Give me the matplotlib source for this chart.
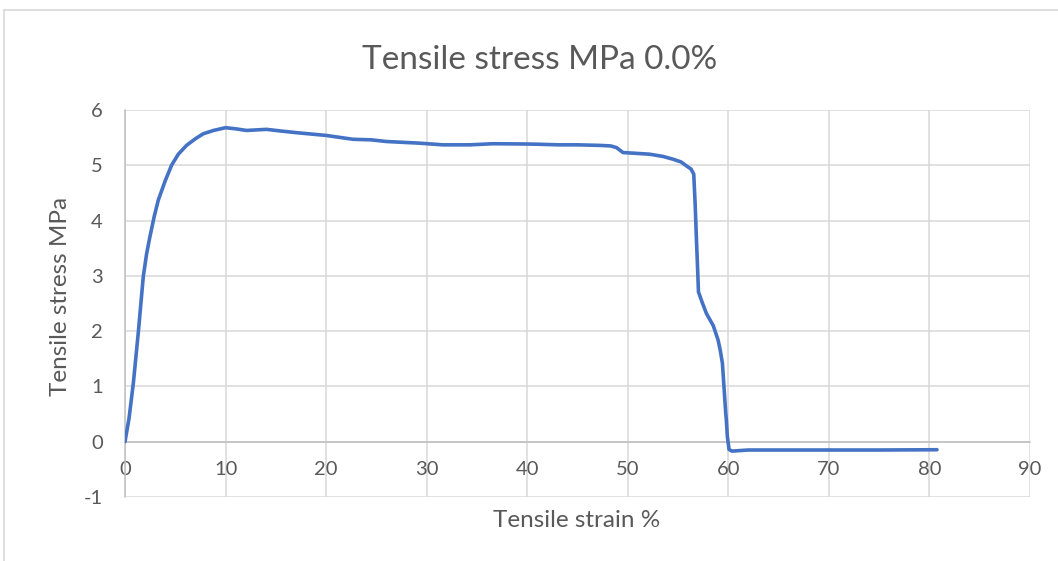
import matplotlib
matplotlib.use("Agg")
from matplotlib import pyplot as plt
from matplotlib.lines import Line2D

# Tensile test curve
strain = [0, 0.4, 0.83, 1.32, 1.82, 2.15, 2.48, 2.9, 3.31, 4.0, 4.63, 5.3,
          6.12, 7.0, 7.78, 8.8, 10.0, 11.0, 12.08, 14.07, 15.5, 17.05, 19.4,
          20.0, 22.3, 22.7, 24.5, 26.0, 29.3, 31.6, 34.3, 36.6, 39.9, 41.25,
          43.1, 45.0, 47.2, 48.3, 48.88, 49.53, 50.5, 52.19, 53.5, 54.5, 55.3,
          55.83, 56.3, 56.56, 56.7, 56.82, 56.95, 57.03, 57.4, 57.82, 58.5,
          58.98, 59.2, 59.41, 59.6, 59.74, 59.8, 59.9, 60.07, 60.36, 62, 65,
          70, 75, 80.75]
stress = [0, 0.42, 1.06, 1.97, 2.99, 3.4, 3.71, 4.07, 4.37, 4.72, 5.0, 5.2,
          5.36, 5.48, 5.57, 5.63, 5.68, 5.66, 5.63, 5.65, 5.62, 5.59, 5.55,
          5.54, 5.48, 5.47, 5.46, 5.43, 5.40, 5.37, 5.37, 5.39, 5.385, 5.38,
          5.37, 5.37, 5.36, 5.35, 5.32, 5.23, 5.22, 5.20, 5.16, 5.11, 5.06,
          4.99, 4.93, 4.84, 4.3, 3.70, 3.1, 2.71, 2.52, 2.32, 2.1, 1.84,
          1.65, 1.42, 0.9, 0.52, 0.40, 0.1, -0.14, -0.17, -0.15, -0.15,
          -0.15, -0.15, -0.145]

x_ticks = [0, 10, 20, 30, 40, 50, 60, 70, 80, 90]
y_ticks = [-1, 0, 1, 2, 3, 4, 5, 6]

plt.rcParams["font.family"] = ["Lato", "DejaVu Sans"]
plt.rcParams["axes.unicode_minus"] = False
text_col = "#595959"
grid_col = "#d9d9d9"
W, H = 1058, 561

fig = plt.figure(figsize=(10.58, 5.61), dpi=100)
ax = fig.add_axes([125 / W, 1 - 497 / H, 905 / W, 387 / H])

ax.plot(strain, stress, color="#4472c4", lw=2.6, solid_joinstyle="round",
        solid_capstyle="round", zorder=3)

ax.set_xlim(0, 90)
ax.set_ylim(-1, 6)
ax.set_xticks(x_ticks)
ax.set_yticks(y_ticks)
ax.grid(True, color=grid_col, lw=1.1)
ax.set_axisbelow(True)

for s in ["top", "right"]:
    ax.spines[s].set_visible(False)
ax.spines["bottom"].set_position(("data", 0))
for s in ["bottom", "left"]:
    ax.spines[s].set_color("#bfbfbf")
    ax.spines[s].set_linewidth(1.1)

ax.tick_params(axis="both", length=0, labelsize=14.5, labelcolor=text_col)
ax.tick_params(axis="x", pad=14)
ax.tick_params(axis="y", pad=16)

fig.text(540 / W, 1 - 69 / H, "Tensile stress MPa 0.0%", fontsize=24,
         color=text_col, ha="center", va="baseline")
fig.text(67 / W, 1 - 296 / H, "Tensile stress MPa", fontsize=17.5,
         color=text_col, ha="center", va="baseline", rotation=90,
         rotation_mode="anchor")
fig.text(577 / W, 1 - 527 / H, "Tensile strain %", fontsize=17.5,
         color=text_col, ha="center", va="baseline")

# chart area border (top and left edges visible in the reference)
fig.add_artist(Line2D([4 / W, 1], [1 - 10 / H, 1 - 10 / H],
                      color=grid_col, lw=1.2, transform=fig.transFigure))
fig.add_artist(Line2D([4 / W, 4 / W], [0, 1 - 10 / H],
                      color=grid_col, lw=1.2, transform=fig.transFigure))

fig.savefig("out.png", dpi=100)
